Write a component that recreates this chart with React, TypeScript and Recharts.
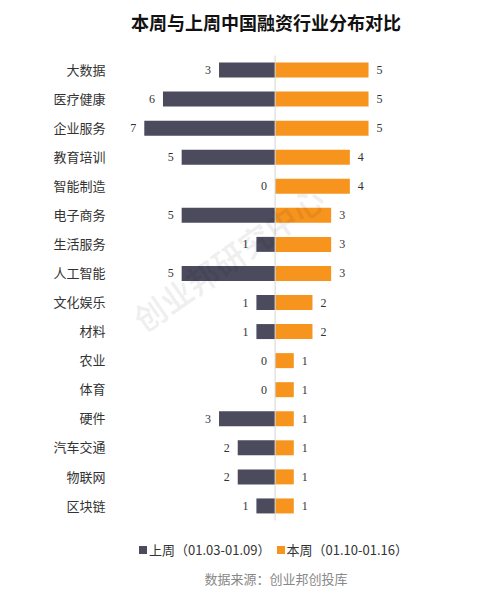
import React from 'react'
import { BarChart, Bar, XAxis, YAxis, ReferenceLine, LabelList } from 'recharts'

const categories = ['大数据', '医疗健康', '企业服务', '教育培训', '智能制造', '电子商务', '生活服务', '人工智能', '文化娱乐', '材料', '农业', '体育', '硬件', '汽车交通', '物联网', '区块链']
const lastWeek = [3, 6, 7, 5, 0, 5, 1, 5, 1, 1, 0, 0, 3, 2, 2, 1]
const thisWeek = [5, 5, 5, 4, 4, 3, 3, 3, 2, 2, 1, 1, 1, 1, 1, 1]
const seriesNames = ['上周（01.03-01.09）', '本周（01.10-01.16）']
const colors = ['#4b4b5d', '#f7941d']

// 上周画在左边，用负值
const data = categories.map((name, i) => ({
  name,
  prev: -lastWeek[i],
  curr: thisWeek[i]
}))

const cjk = '"Noto Sans CJK SC", "Noto Sans", sans-serif'
const numFont = '"Liberation Serif", serif'

// 两边的数值都挂在本周的柱子上画，0 值的柱子 recharts 不给标签
const BothLabels = (props: any) => {
  const { x, y, width, height, value, index } = props
  const unit = width / value
  const cy = y + height / 2
  const prev = lastWeek[index]
  return (
    <g fontSize={12} fontFamily={numFont} fill="#333">
      <text x={x + width + 8} y={cy} dy={4} textAnchor="start">{value}</text>
      <text x={x - prev * unit - 8} y={cy} dy={4} textAnchor="end">{prev}</text>
    </g>
  )
}

export default function App() {
  return (
    <div style={{ position: 'relative', width: 483, height: 586 }}>
      <div style={{ position: 'absolute', top: 1, left: 0, width: 516, textAlign: 'center', fontFamily: cjk, fontWeight: 700, fontSize: 18, color: '#111' }}>
        本周与上周中国融资行业分布对比
      </div>
      <BarChart
        width={483}
        height={586}
        data={data}
        layout="vertical"
        stackOffset="sign"
        margin={{ top: 47.5, right: 66.4, bottom: 73.5, left: 0 }}
      >
        <XAxis type="number" domain={[-8, 8]} hide />
        <YAxis
          type="category"
          dataKey="name"
          width={117.6}
          axisLine={false}
          tickLine={false}
          tickSize={0}
          tickMargin={20}
          interval={0}
          tick={{ fontSize: 13, fill: '#333', fontFamily: cjk }}
        />
        <ReferenceLine x={0} stroke="#d6d6d6" />
        <Bar dataKey="prev" name={seriesNames[0]} stackId="a" fill={colors[0]} barSize={15} isAnimationActive={false} />
        <Bar dataKey="curr" name={seriesNames[1]} stackId="a" fill={colors[1]} barSize={15} isAnimationActive={false}>
          <LabelList dataKey="curr" content={BothLabels} />
        </Bar>
      </BarChart>
      <div style={{ position: 'absolute', top: 532, left: 0, width: 531, display: 'flex', justifyContent: 'center', fontFamily: cjk, fontSize: 13, color: '#333' }}>
        {seriesNames.map((s, i) => (
          <span key={s} style={{ display: 'flex', alignItems: 'center', marginLeft: i ? 6 : 0 }}>
            <span style={{ width: 8, height: 8, background: colors[i], display: 'inline-block', marginRight: 2 }} />
            {s}
          </span>
        ))}
      </div>
      <div style={{ position: 'absolute', top: 561, left: 0, width: 536, textAlign: 'center', fontFamily: cjk, fontSize: 13, color: '#888' }}>
        数据来源：创业邦创投库
      </div>
      <div
        style={{
          position: 'absolute',
          left: 220 - 130,
          top: 247 - 20,
          width: 260,
          textAlign: 'center',
          transform: 'rotate(-35deg)',
          fontFamily: cjk,
          fontWeight: 700,
          fontSize: 32,
          color: 'rgba(0,0,0,0.06)',
          pointerEvents: 'none',
          whiteSpace: 'nowrap'
        }}
      >
        创业邦研究中心
      </div>
    </div>
  )
}
